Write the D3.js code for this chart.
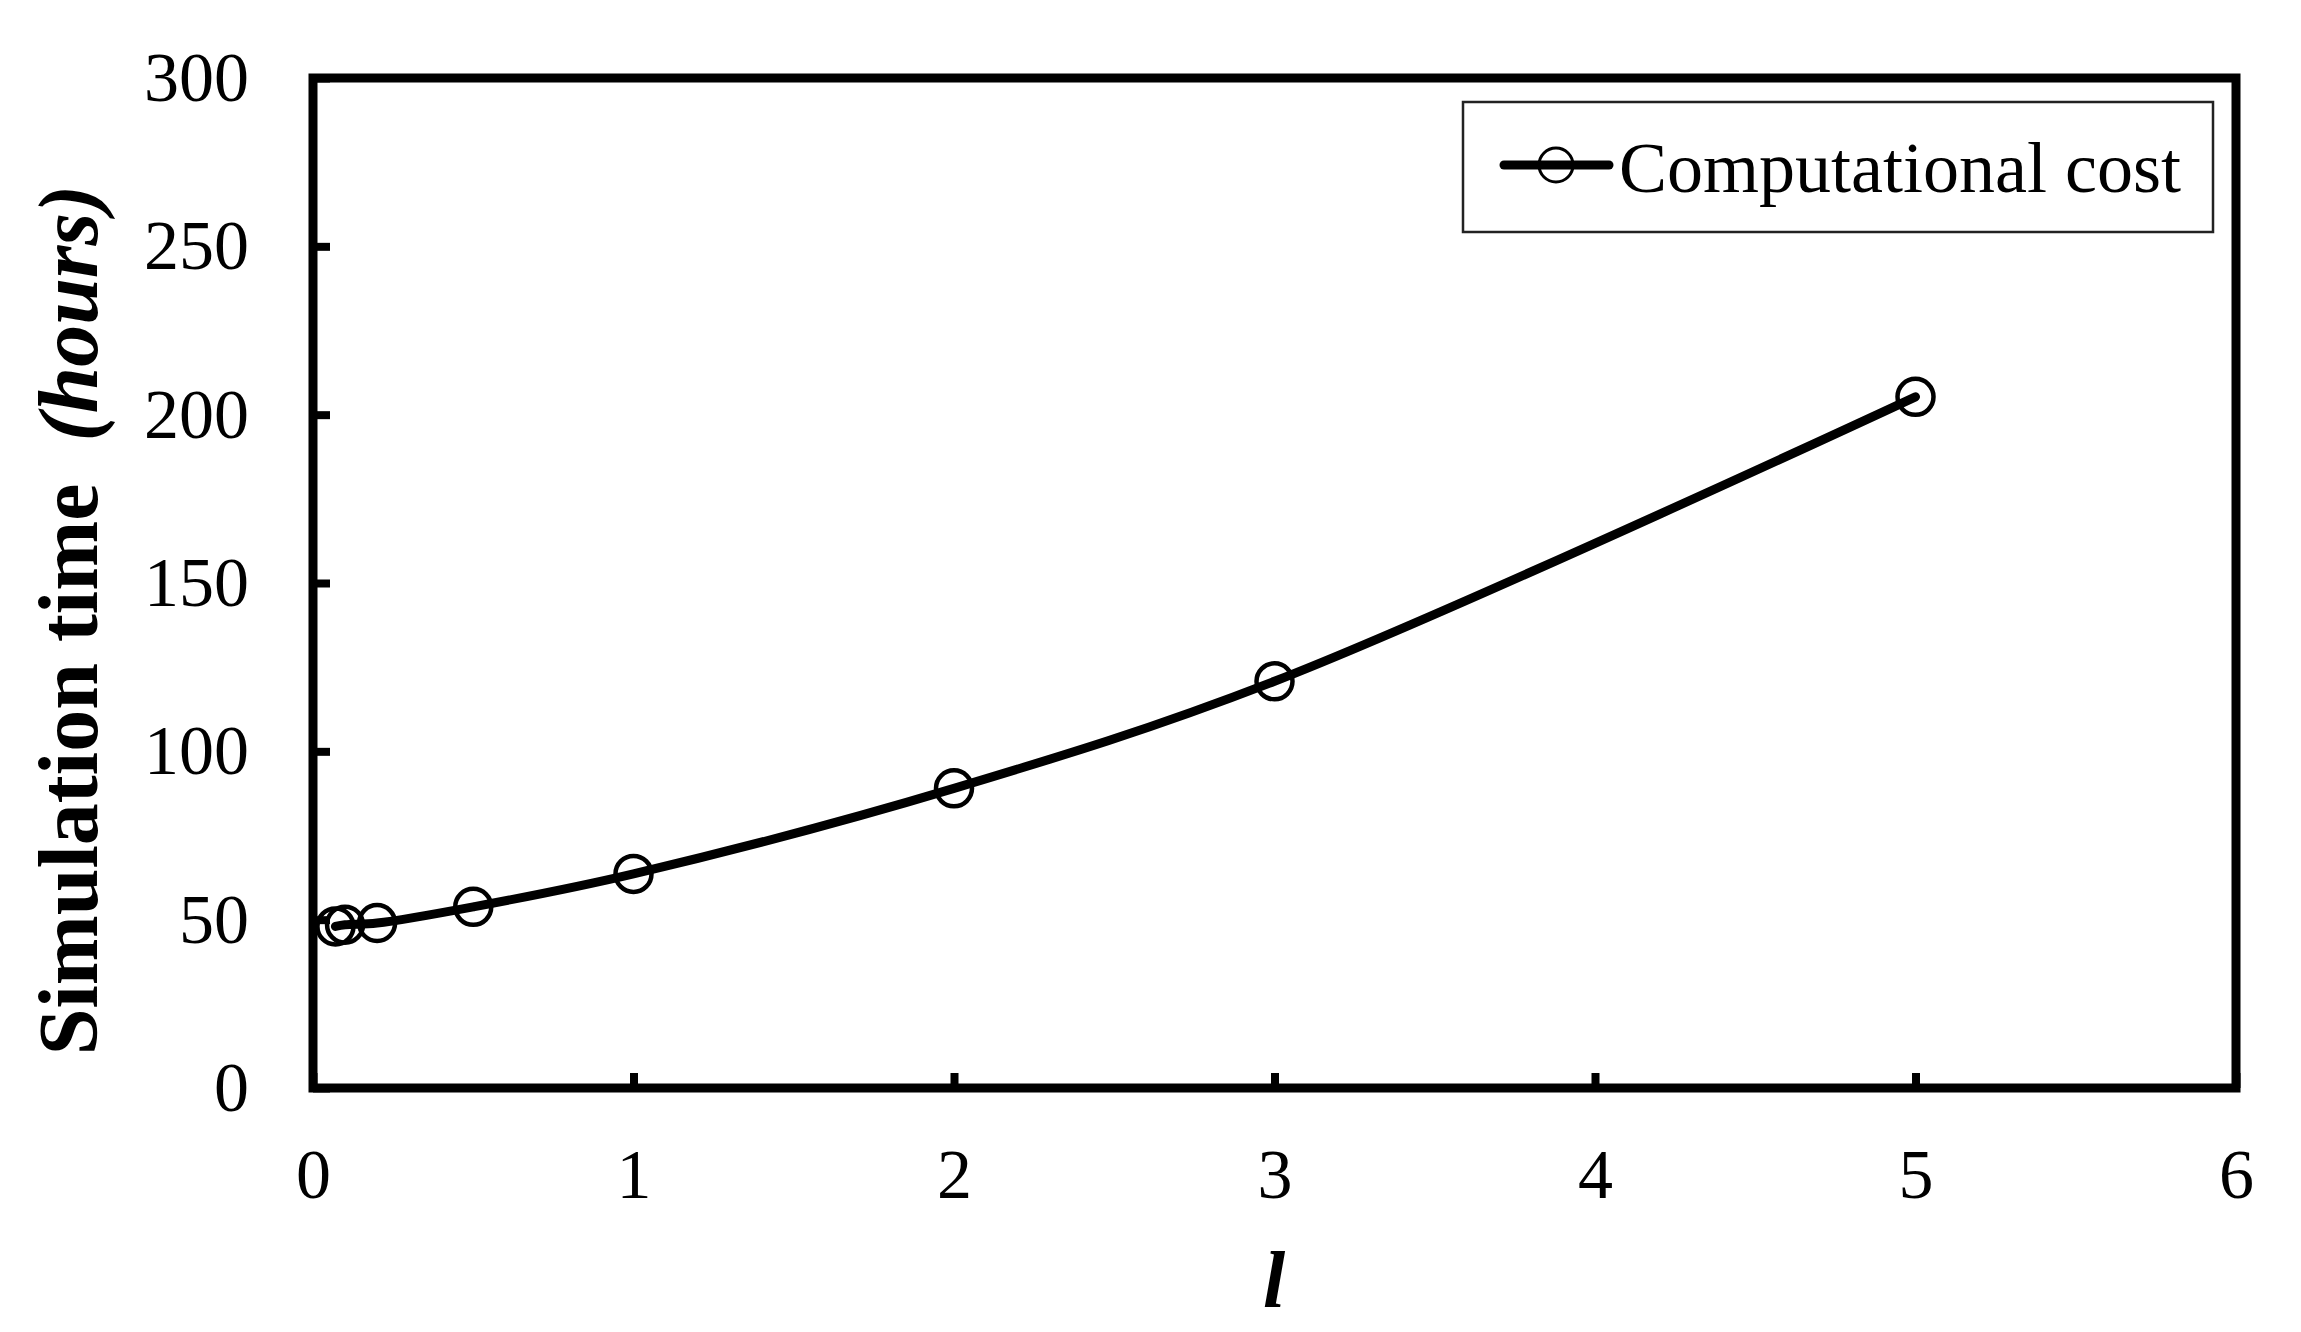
<!DOCTYPE html>
<html>
<head>
<meta charset="utf-8">
<script src="https://cdn.jsdelivr.net/npm/d3@7"></script>
<style>
  html, body { margin: 0; padding: 0; background: #fff; }
  svg { display: block; }
  text { font-family: "Liberation Serif", "Times New Roman", serif; fill: #000; }
</style>
</head>
<body>
<svg id="chart" width="2301" height="1332"></svg>
<script>
// ---- data ----
const lValues = [0.07, 0.1, 0.2, 0.5, 1, 2, 3, 5];
const simTimes = [48, 48.5, 49, 53.8, 63.6, 89, 120.8, 205.3];
const xTickValues = [0, 1, 2, 3, 4, 5, 6];
const yTickValues = [0, 50, 100, 150, 200, 250, 300];
const seriesName = "Computational cost";

// ---- layout ----
const W = 2301, H = 1332;
const plot = { left: 313, right: 2236, top: 78, bottom: 1088 };

const svg = d3.select("#chart");
svg.append("rect").attr("width", W).attr("height", H).attr("fill", "#fff");

const x = d3.scaleLinear().domain([0, 6]).range([plot.left, plot.right]);
const y = d3.scaleLinear().domain([0, 300]).range([plot.bottom, plot.top]);

// axes
const xAxis = d3.axisBottom(x).tickValues(xTickValues).tickFormat(d3.format("d"))
  .tickSizeInner(-15).tickSizeOuter(0).tickPadding(60);
const yAxis = d3.axisLeft(y).tickValues(yTickValues).tickFormat(d3.format("d"))
  .tickSizeInner(-17).tickSizeOuter(0).tickPadding(64);

const gx = svg.append("g").attr("transform", `translate(0,${plot.bottom})`).call(xAxis);
const gy = svg.append("g").attr("transform", `translate(${plot.left},0)`).call(yAxis);
[gx, gy].forEach(g => {
  g.select(".domain").remove();
  g.selectAll(".tick line").attr("stroke", "#000").attr("stroke-width", 8);
  g.selectAll(".tick text")
    .style("font-family", '"Liberation Serif", "Times New Roman", serif')
    .style("font-size", "70px").attr("fill", "#000");
});

// frame
svg.append("rect")
  .attr("x", plot.left).attr("y", plot.top)
  .attr("width", plot.right - plot.left).attr("height", plot.bottom - plot.top)
  .attr("fill", "none").attr("stroke", "#000").attr("stroke-width", 9);

// data
const pts = lValues.map((v, i) => [v, simTimes[i]]);
const line = d3.line().x(d => x(d[0])).y(d => y(d[1])).curve(d3.curveCatmullRom.alpha(0.5));
svg.append("path").datum(pts)
  .attr("d", line).attr("fill", "none").attr("stroke", "#000")
  .attr("stroke-width", 9).attr("stroke-linejoin", "round").attr("stroke-linecap", "round");

svg.append("g").selectAll("circle").data(pts).join("circle")
  .attr("cx", d => x(d[0])).attr("cy", d => y(d[1])).attr("r", 18)
  .attr("fill", "none").attr("stroke", "#000").attr("stroke-width", 4.5);

// axis titles
svg.append("text")
  .attr("x", 1274).attr("y", 1307)
  .attr("text-anchor", "middle")
  .style("font-size", "80px").style("font-weight", "bold").style("font-style", "italic")
  .text("l");

const yt = svg.append("text")
  .attr("transform", `translate(97,620) rotate(-90)`)
  .attr("text-anchor", "middle")
  .style("font-size", "84px").style("font-weight", "bold");
yt.append("tspan").text("Simulation time\u00a0\u00a0");
yt.append("tspan").style("font-style", "italic").text("(hours)");

// legend
const lg = svg.append("g");
lg.append("rect").attr("x", 1463).attr("y", 102).attr("width", 750).attr("height", 130)
  .attr("fill", "#fff").attr("stroke", "#222").attr("stroke-width", 2.5);
lg.append("line").attr("x1", 1504).attr("x2", 1609).attr("y1", 165).attr("y2", 165)
  .attr("stroke", "#000").attr("stroke-width", 9).attr("stroke-linecap", "round");
lg.append("circle").attr("cx", 1556).attr("cy", 165).attr("r", 17)
  .attr("fill", "none").attr("stroke", "#000").attr("stroke-width", 3);
lg.append("text").attr("x", 1619).attr("y", 192)
  .style("font-size", "72px").text(seriesName);
</script>
</body>
</html>
